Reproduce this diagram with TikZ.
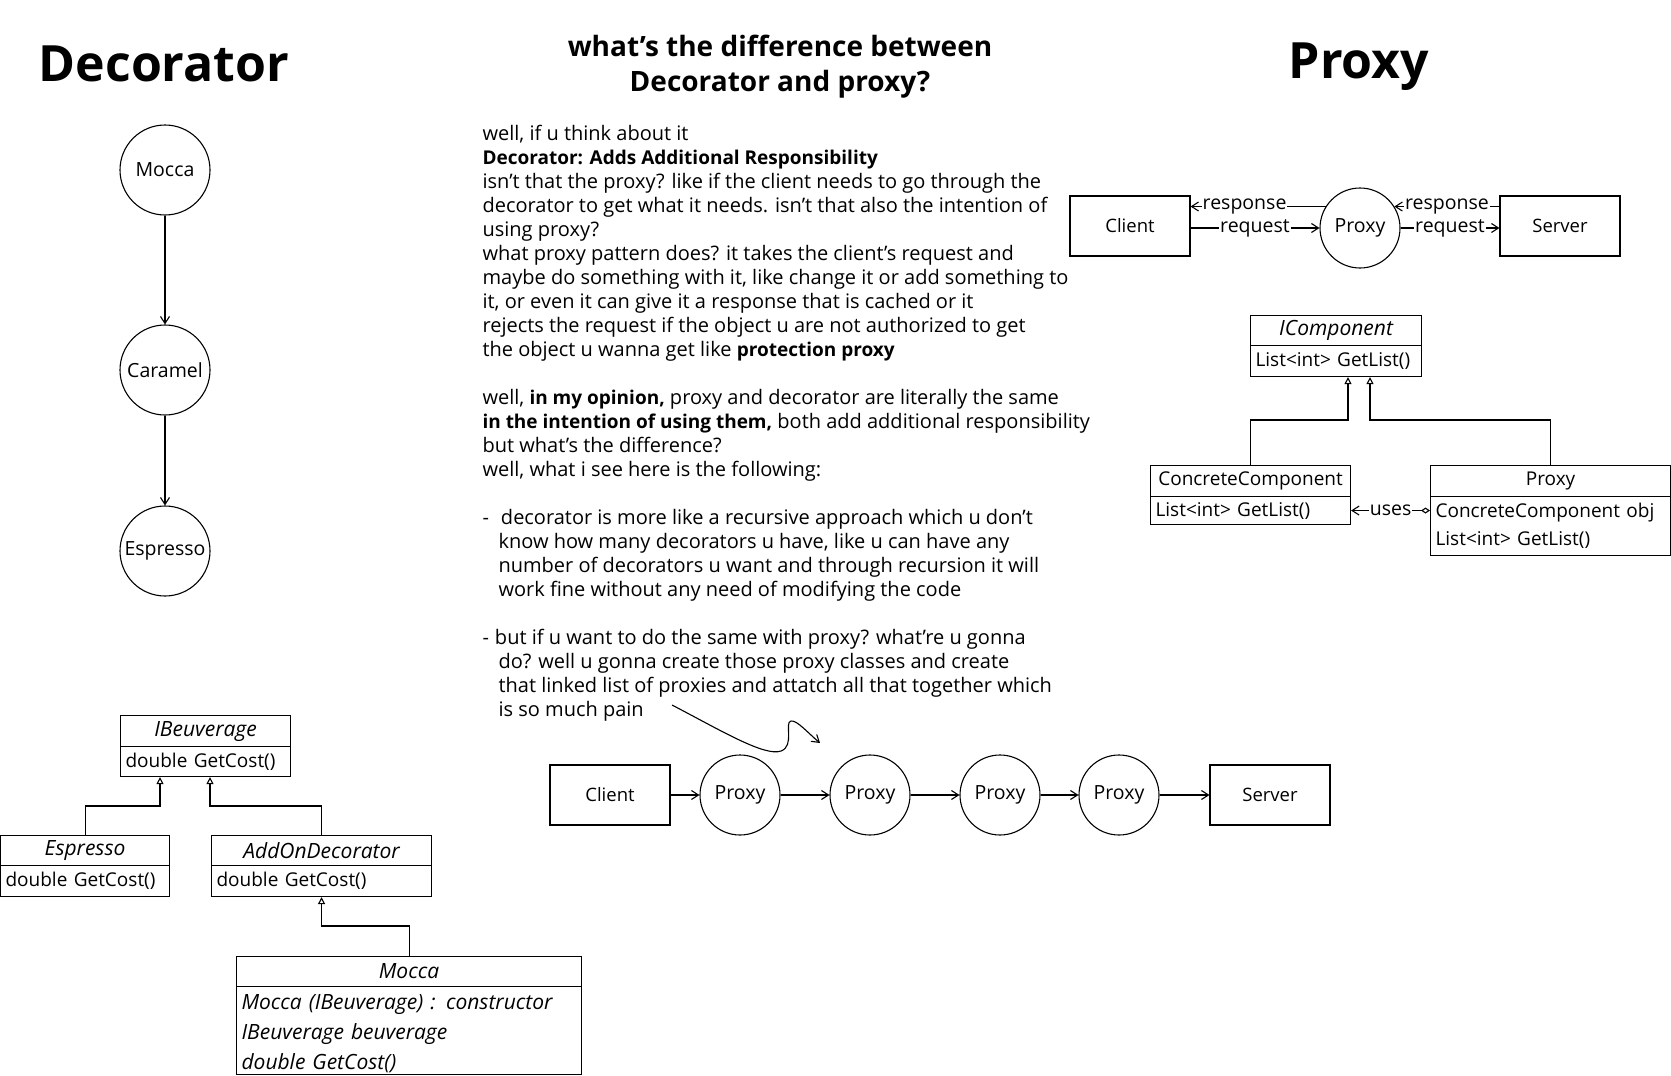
\documentclass[tikz,border=0pt]{standalone}
\usepackage{fontspec}
\setmainfont{Open Sans}
\usetikzlibrary{arrows.meta,shapes.geometric}
\newcommand\mybold[1]{{\fontsize{19}{24}\selectfont\bfseries #1}}
\newcommand\myital[1]{{\fontsize{21}{24}\selectfont\itshape #1}}
\tikzset{
  arr/.style={-{Straight Barb[length=7pt,width=9pt]}},
  inh/.style={-{Triangle[open,length=7pt,width=7pt]}},
  circ/.style={draw,circle,minimum size=90pt,inner sep=0pt,font=\fontsize{19.5}{22}\selectfont},
  pcirc/.style={draw,circle,minimum size=80pt,inner sep=0pt,font=\fontsize{19.5}{22}\selectfont},
  sbox/.style={draw,rectangle,minimum width=120pt,minimum height=60pt,font=\fontsize{18.5}{22}\selectfont},
  bodytxt/.style={anchor=base west,inner sep=0pt,font=\fontsize{20}{24}\selectfont},
  lbl/.style={fill=white,inner sep=1pt,font=\fontsize{19.5}{22}\selectfont},
  uhead/.style={draw,rectangle,anchor=north west,inner sep=0pt,font=\fontsize{19}{24}\selectfont},
  ubody/.style={draw,rectangle,anchor=north west,align=left,inner xsep=5pt,inner ysep=0pt,font=\fontsize{19}{29}\selectfont},
  ttl/.style={inner sep=0pt,font=\fontsize{50}{60}\selectfont\bfseries},
  subttl/.style={inner sep=0pt,align=center,font=\fontsize{28}{35}\selectfont\bfseries},
}
\begin{document}
\begin{tikzpicture}[x=1pt,y=-1pt,line width=1.1pt]
\path[fill=white,use as bounding box] (0,0) rectangle (1671,1076);

% titles
\node[ttl] (tdec) at (164,64) {Decorator};
\node[ttl] (tprx) at (1359,67) {Proxy};
\node[subttl] (tq) at (780,67) {what's the difference between\\Decorator and proxy?};

% decorator chain
\node[circ] (dm) at (165,170) {Mocca};
\node[circ] (dc) at (165,370) {Caramel};
\node[circ] (de) at (165,551) {Espresso};
\draw[arr] (dm.south) -- (dc.north);
\draw[arr] (dc.south) -- (de.north);

% left UML
\node[uhead,minimum width=170pt,minimum height=31pt] (ibH) at (120,715) {\myital{IBeuverage}};
\node[ubody,text width=160pt,minimum height=30pt] (ibB) at (120,746) {double GetCost()};
\node[uhead,minimum width=169pt,minimum height=30pt] (esH) at (0,835) {\myital{Espresso}};
\node[ubody,text width=159pt,minimum height=31pt] (esB) at (0,865) {double GetCost()};
\node[uhead,minimum width=220pt,minimum height=30pt] (adH) at (211,835) {\myital{AddOnDecorator}};
\node[ubody,text width=210pt,minimum height=31pt] (adB) at (211,865) {double GetCost()};
\node[uhead,minimum width=345pt,minimum height=30pt] (moH) at (236,956) {\myital{Mocca}};
\node[ubody,text width=335pt,minimum height=88pt,font=\fontsize{21}{30}\selectfont] (moB) at (236,986) {\rule{0pt}{21pt}\itshape Mocca (IBeuverage) : constructor\\\itshape IBeuverage beuverage\\\itshape double GetCost()};
\draw[inh] (esH.north) -- ++(0,-29) -| ([xshift=40pt]ibB.south west);
\draw[inh] (adH.north) -- ++(0,-29) -| ([xshift=90pt]ibB.south west);
\draw[inh] (moH.north) -- ++(0,-30) -| (adB.south);

% middle text
\node[bodytxt] (l0) at (482,140) {well, if u think about it};
\node[bodytxt] (l1) at (482,164) {\mybold{Decorator: Adds Additional Responsibility}};
\node[bodytxt] (l2) at (482,188) {isn't that the proxy? like if the client needs to go through the};
\node[bodytxt] (l3) at (482,212) {decorator to get what it needs. isn't that also the intention of};
\node[bodytxt] (l4) at (482,236) {using proxy?};
\node[bodytxt] (l5) at (482,260) {what proxy pattern does? it takes the client's request and};
\node[bodytxt] (l6) at (482,284) {maybe do something with it, like change it or add something to};
\node[bodytxt] (l7) at (482,308) {it, or even it can give it a response that is cached or it};
\node[bodytxt] (l8) at (482,332) {rejects the request if the object u are not authorized to get};
\node[bodytxt] (l9) at (482,356) {the object u wanna get like \mybold{protection proxy}};
\node[bodytxt] (l11) at (482,404) {well, \mybold{in my opinion,} proxy and decorator are literally the same};
\node[bodytxt] (l12) at (482,428) {\mybold{in the intention of using them,} both add additional responsibility};
\node[bodytxt] (l13) at (482,452) {but what's the difference?};
\node[bodytxt] (l14) at (482,476) {well, what i see here is the following:};
\node[bodytxt] (l16) at (482,524) {-\hspace{12pt}decorator is more like a recursive approach which u don't};
\node[bodytxt] (l17) at (498,548) {know how many decorators u have, like u can have any};
\node[bodytxt] (l18) at (498,572) {number of decorators u want and through recursion it will};
\node[bodytxt] (l19) at (498,596) {work fine without any need of modifying the code};
\node[bodytxt] (l21) at (482,644) {-\hspace{6pt}but if u want to do the same with proxy? what're u gonna};
\node[bodytxt] (l22) at (498,668) {do? well u gonna create those proxy classes and create};
\node[bodytxt] (l23) at (498,692) {that linked list of proxies and attatch all that together which};
\node[bodytxt] (l24) at (498,716) {is so much pain};

% curved arrow
\coordinate (cs) at (672,705);
\coordinate (ce) at (820,743);
\draw[arr] (cs) .. controls (720,730) and (765,757) .. (781,751)
  .. controls (795,746) and (784,722) .. (791,721)
  .. controls (797,720) and (808,733) .. (ce);

% bottom chain
\node[sbox] (bc) at (610,795) {Client};
\node[pcirc] (q1) at (740,795) {Proxy};
\node[pcirc] (q2) at (870,795) {Proxy};
\node[pcirc] (q3) at (1000,795) {Proxy};
\node[pcirc] (q4) at (1119,795) {Proxy};
\node[sbox] (bs) at (1270,795) {Server};
\draw[arr] (bc.east) -- (q1.west);
\draw[arr] (q1.east) -- (q2.west);
\draw[arr] (q2.east) -- (q3.west);
\draw[arr] (q3.east) -- (q4.west);
\draw[arr] (q4.east) -- (bs.west);

% top right proxy diagram
\node[sbox] (tc) at (1130,226) {Client};
\node[pcirc] (tp) at (1360,228) {Proxy};
\node[sbox] (ts) at (1560,226) {Server};
\draw[arr] (tp.148) -- node[lbl,pos=0.6] {response} (tp.148 -| tc.east);
\draw[arr] (tc.east |- tp.west) -- node[lbl] {request} (tp.west);
\draw[arr] (ts.west |- tp.32) -- node[lbl] {response} (tp.32);
\draw[arr] (tp.east) -- node[lbl] {request} (ts.west |- tp.east);

% right UML
\node[uhead,minimum width=171pt,minimum height=30pt] (icH) at (1250,315) {\myital{IComponent}};
\node[ubody,text width=161pt,minimum height=31pt] (icB) at (1250,345) {List<int> GetList()};
\node[uhead,minimum width=200pt,minimum height=31pt] (ccH) at (1150,465) {ConcreteComponent};
\node[ubody,text width=190pt,minimum height=28pt] (ccB) at (1150,496) {List<int> GetList()};
\node[uhead,minimum width=240pt,minimum height=31pt] (pxH) at (1430,465) {Proxy};
\node[ubody,text width=230pt,minimum height=59pt,font=\fontsize{19}{28}\selectfont] (pxB) at (1430,496) {ConcreteComponent obj\\List<int> GetList()};
\draw[inh] (ccH.north) -- ++(0,-45) -| ([xshift=98pt]icB.south west);
\draw[inh] (pxH.north) -- ++(0,-45) -| ([xshift=120pt]icB.south west);
\draw[{Diamond[open,length=9pt,width=6pt]}-{Straight Barb[length=7pt,width=9pt]}] (pxB.west |- ccB.east) -- node[lbl] {uses} (ccB.east);
\end{tikzpicture}
\end{document}
